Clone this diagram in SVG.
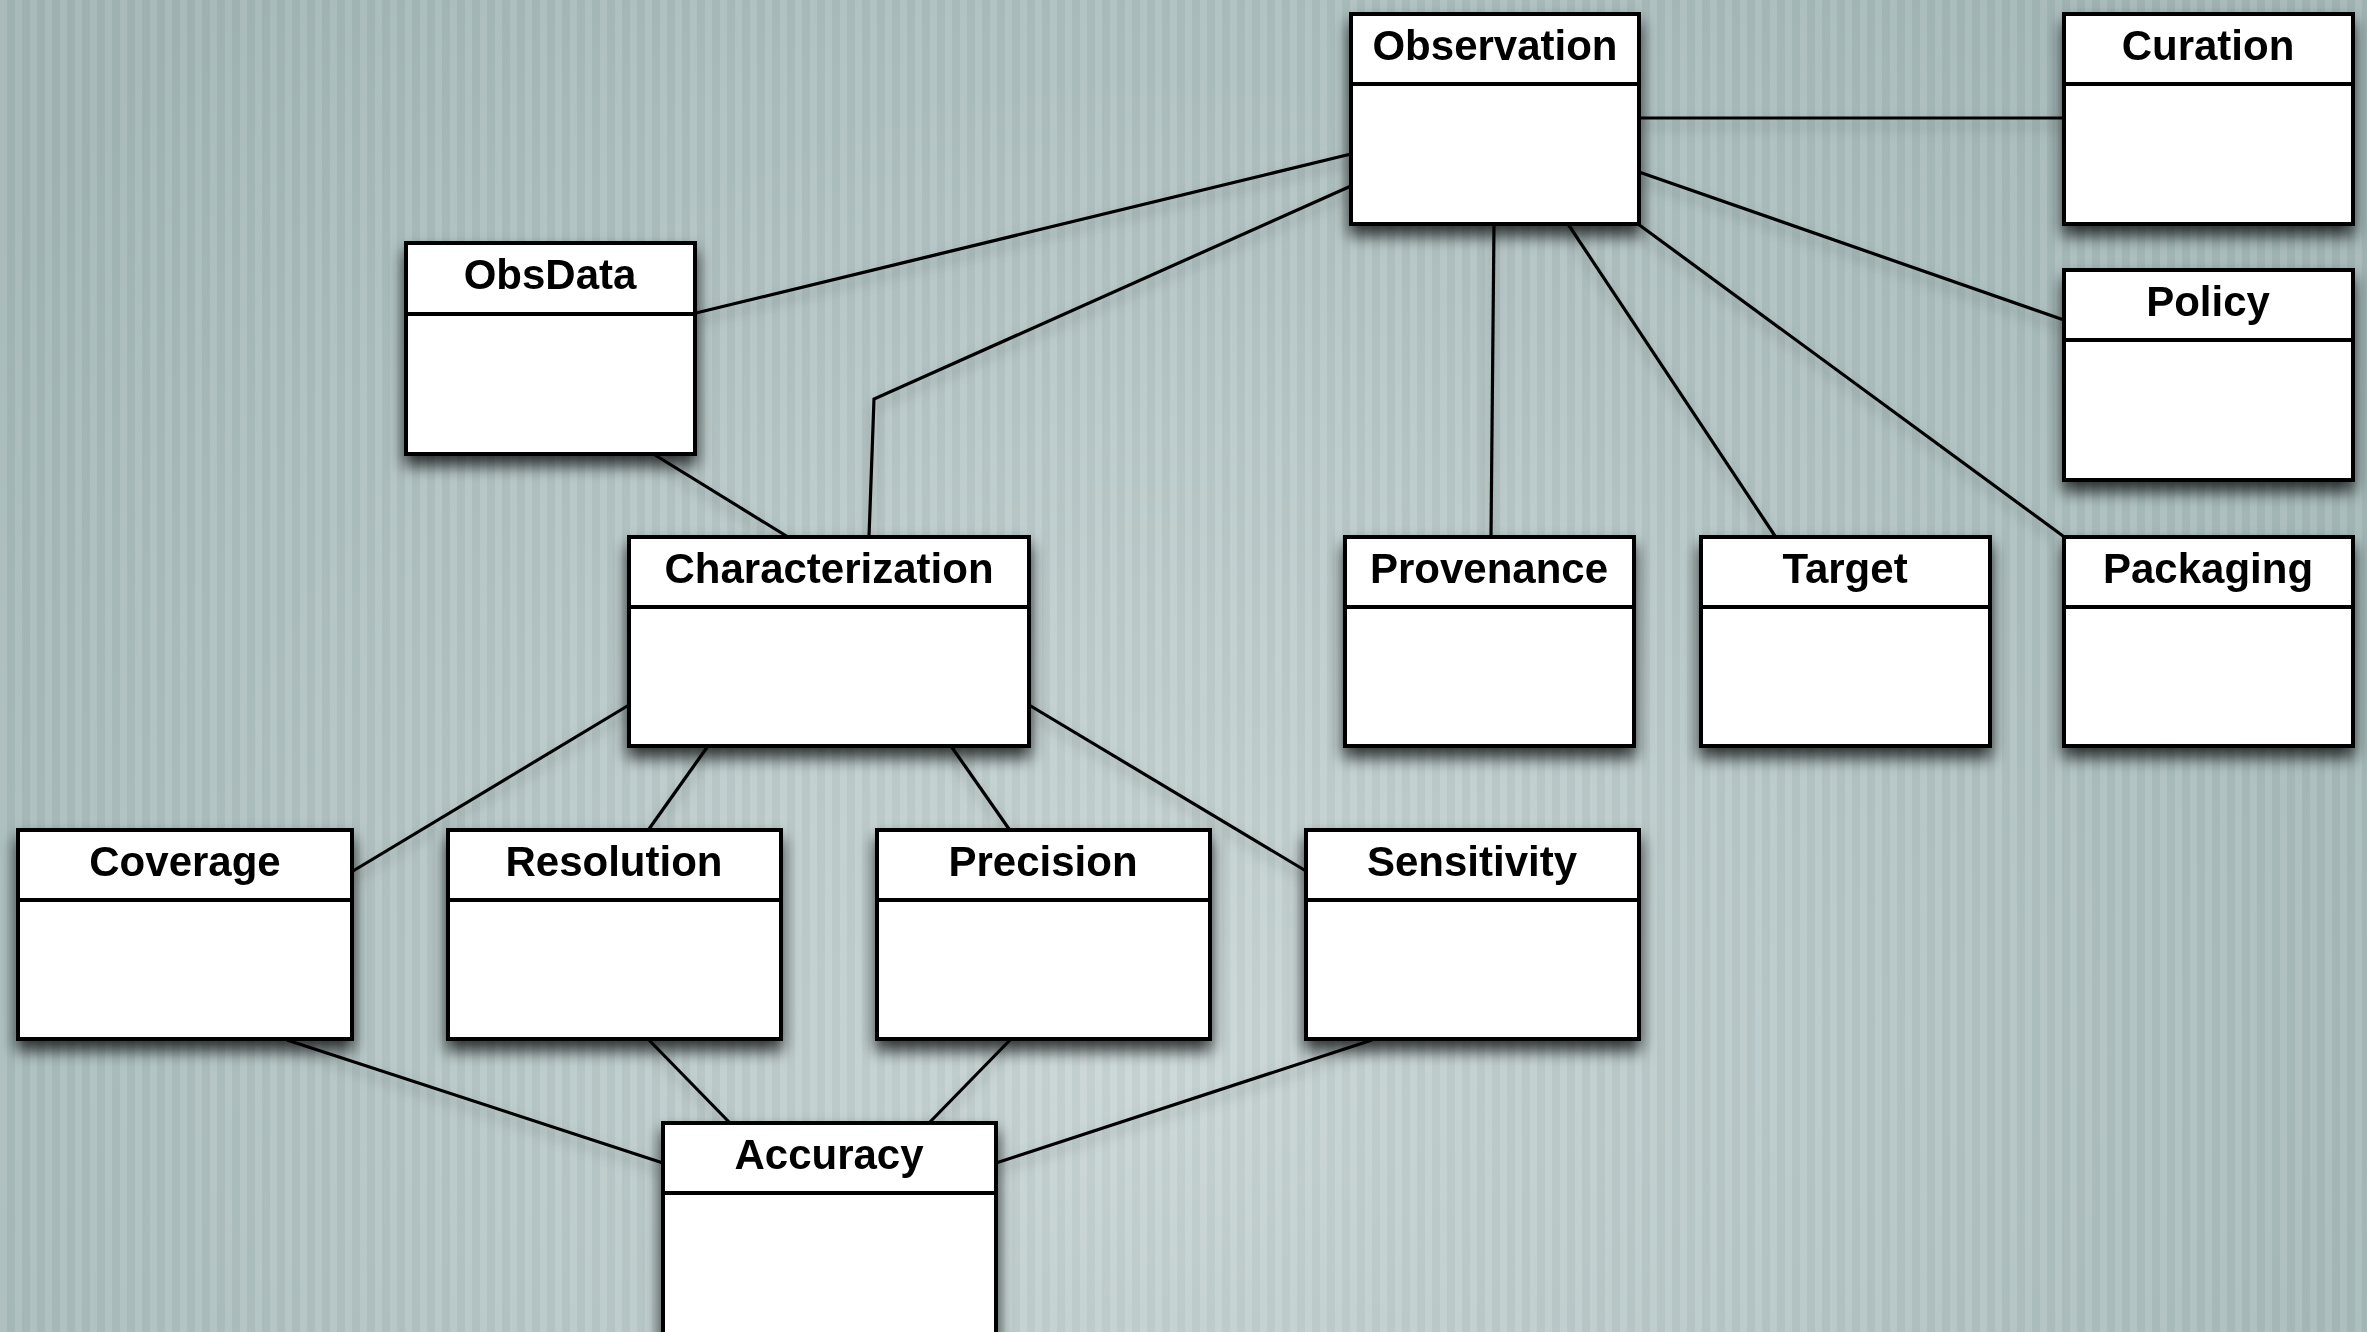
<svg xmlns="http://www.w3.org/2000/svg" width="2367" height="1332" viewBox="0 0 2367 1332">
<defs>
<radialGradient id="bg" cx="1150" cy="1050" r="1400" gradientUnits="userSpaceOnUse">
<stop offset="0" stop-color="#cad6d6"/>
<stop offset="0.45" stop-color="#b8c8c8"/>
<stop offset="1" stop-color="#a2b6b6"/>
</radialGradient>
<pattern id="stripes" width="15" height="20" patternUnits="userSpaceOnUse">
<rect x="0" y="0" width="7" height="20" fill="#ffffff" fill-opacity="0.07"/>
<rect x="7" y="0" width="8" height="20" fill="#000000" fill-opacity="0.025"/>
</pattern>
<filter id="shadow" x="-20%" y="-20%" width="140%" height="160%">
<feDropShadow dx="0" dy="10" stdDeviation="8" flood-color="#000000" flood-opacity="0.75"/>
</filter>
<filter id="lshadow" x="-10%" y="-10%" width="120%" height="140%">
<feDropShadow dx="0" dy="7" stdDeviation="7" flood-color="#000000" flood-opacity="0.3"/>
</filter>
</defs>
<style>
.box { fill: #ffffff; stroke: #000000; stroke-width: 4; }
.div { stroke: #000000; stroke-width: 4; }
.lbl { font-family: "Liberation Sans", Arial, sans-serif; font-weight: bold; font-size: 42px; fill: #000000; text-anchor: middle; }
.con { fill: none; stroke: #000000; stroke-width: 3.2; stroke-linejoin: miter; }
</style>
<rect x="0" y="0" width="2367" height="1332" fill="url(#bg)"/>
<rect x="0" y="0" width="2367" height="1332" fill="url(#stripes)"/>

<g id="connectors" filter="url(#lshadow)">
<line class="con" x1="1639" y1="118" x2="2064" y2="118"/>
<line class="con" x1="696" y1="313" x2="1351" y2="154"/>
<polyline class="con" points="1351,186 874,399 869,537"/>
<line class="con" x1="655" y1="455" x2="788" y2="537"/>
<line class="con" x1="1494" y1="224" x2="1491" y2="536"/>
<line class="con" x1="1568" y1="224" x2="1775" y2="536"/>
<line class="con" x1="1638" y1="224" x2="2063" y2="536"/>
<line class="con" x1="1639" y1="172" x2="2064" y2="320"/>
<line class="con" x1="629" y1="705" x2="353" y2="871"/>
<line class="con" x1="708" y1="746" x2="649" y2="829"/>
<line class="con" x1="951" y1="746" x2="1009" y2="829"/>
<line class="con" x1="1029" y1="705" x2="1306" y2="871"/>
<line class="con" x1="287" y1="1040" x2="663" y2="1163"/>
<line class="con" x1="649" y1="1040" x2="729" y2="1122"/>
<line class="con" x1="1010" y1="1040" x2="930" y2="1122"/>
<line class="con" x1="1372" y1="1040" x2="996" y2="1163"/>
</g>

<g id="observation" filter="url(#shadow)">
<rect class="box" x="1351" y="14" width="288" height="210"/>
<line class="div" x1="1351" y1="84" x2="1639" y2="84"/>
<text class="lbl" x="1495" y="60">Observation</text>
</g>
<g id="curation" filter="url(#shadow)">
<rect class="box" x="2064" y="14" width="289" height="210"/>
<line class="div" x1="2064" y1="84" x2="2353" y2="84"/>
<text class="lbl" x="2208" y="60">Curation</text>
</g>
<g id="policy" filter="url(#shadow)">
<rect class="box" x="2064" y="270" width="289" height="210"/>
<line class="div" x1="2064" y1="340" x2="2353" y2="340"/>
<text class="lbl" x="2208" y="316">Policy</text>
</g>
<g id="obsdata" filter="url(#shadow)">
<rect class="box" x="406" y="243" width="289" height="211"/>
<line class="div" x1="406" y1="314" x2="695" y2="314"/>
<text class="lbl" x="550" y="289">ObsData</text>
</g>
<g id="characterization" filter="url(#shadow)">
<rect class="box" x="629" y="537" width="400" height="209"/>
<line class="div" x1="629" y1="607" x2="1029" y2="607"/>
<text class="lbl" x="829" y="583">Characterization</text>
</g>
<g id="provenance" filter="url(#shadow)">
<rect class="box" x="1345" y="537" width="289" height="209"/>
<line class="div" x1="1345" y1="607" x2="1634" y2="607"/>
<text class="lbl" x="1489" y="583">Provenance</text>
</g>
<g id="target" filter="url(#shadow)">
<rect class="box" x="1701" y="537" width="289" height="209"/>
<line class="div" x1="1701" y1="607" x2="1990" y2="607"/>
<text class="lbl" x="1845" y="583">Target</text>
</g>
<g id="packaging" filter="url(#shadow)">
<rect class="box" x="2064" y="537" width="289" height="209"/>
<line class="div" x1="2064" y1="607" x2="2353" y2="607"/>
<text class="lbl" x="2208" y="583">Packaging</text>
</g>
<g id="coverage" filter="url(#shadow)">
<rect class="box" x="18" y="830" width="334" height="209"/>
<line class="div" x1="18" y1="900" x2="352" y2="900"/>
<text class="lbl" x="185" y="876">Coverage</text>
</g>
<g id="resolution" filter="url(#shadow)">
<rect class="box" x="448" y="830" width="333" height="209"/>
<line class="div" x1="448" y1="900" x2="781" y2="900"/>
<text class="lbl" x="614" y="876">Resolution</text>
</g>
<g id="precision" filter="url(#shadow)">
<rect class="box" x="877" y="830" width="333" height="209"/>
<line class="div" x1="877" y1="900" x2="1210" y2="900"/>
<text class="lbl" x="1043" y="876">Precision</text>
</g>
<g id="sensitivity" filter="url(#shadow)">
<rect class="box" x="1306" y="830" width="333" height="209"/>
<line class="div" x1="1306" y1="900" x2="1639" y2="900"/>
<text class="lbl" x="1472" y="876">Sensitivity</text>
</g>
<g id="accuracy" filter="url(#shadow)">
<rect class="box" x="663" y="1123" width="333" height="215"/>
<line class="div" x1="663" y1="1193" x2="996" y2="1193"/>
<text class="lbl" x="829" y="1169">Accuracy</text>
</g>
</svg>
